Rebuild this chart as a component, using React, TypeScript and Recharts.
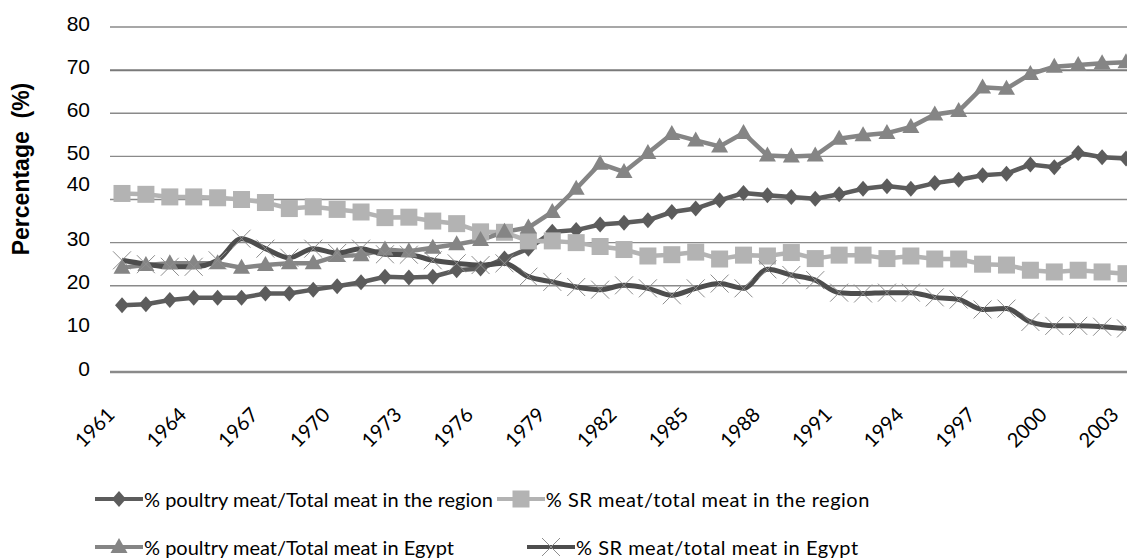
import { Line, LineChart, ReferenceLine, XAxis, YAxis } from 'recharts'

const years = [
  '1961', '1962', '1963', '1964', '1965', '1966', '1967', '1968', '1969', '1970',
  '1971', '1972', '1973', '1974', '1975', '1976', '1977', '1978', '1979', '1980',
  '1981', '1982', '1983', '1984', '1985', '1986', '1987', '1988', '1989', '1990',
  '1991', '1992', '1993', '1994', '1995', '1996', '1997', '1998', '1999', '2000',
  '2001', '2002', '2003',
]

// % poultry meat / total meat in the region
const poultryRegion = [
  15.5, 15.7, 16.7, 17.2, 17.2, 17.2, 18.2, 18.2, 19.1, 19.9,
  20.8, 22.1, 21.9, 22.1, 23.6, 24.0, 26.3, 28.6, 32.5, 32.9,
  34.2, 34.6, 35.2, 37.1, 37.9, 39.8, 41.5, 41.0, 40.6, 40.2,
  41.2, 42.5, 43.1, 42.5, 43.8, 44.6, 45.6, 46.0, 48.1, 47.5,
  50.8, 49.8, 49.5,
]

// % SR meat / total meat in the region
const srRegion = [
  41.4, 41.2, 40.6, 40.6, 40.4, 40.0, 39.3, 37.9, 38.3, 37.7,
  37.1, 35.8, 35.9, 35.0, 34.4, 32.5, 32.4, 30.4, 30.4, 30.0,
  29.1, 28.4, 26.9, 27.2, 27.8, 26.2, 27.1, 26.9, 27.7, 26.3,
  27.1, 27.1, 26.3, 26.9, 26.2, 26.2, 25.0, 24.8, 23.6, 23.2,
  23.6, 23.2, 22.8,
]

// % poultry meat / total meat in Egypt
const poultryEgypt = [
  24.2, 24.8, 25.2, 25.2, 25.2, 24.2, 24.8, 25.2, 25.2, 26.9,
  27.1, 28.4, 28.0, 28.8, 29.6, 30.6, 32.5, 33.5, 37.1, 42.5,
  48.3, 46.4, 50.8, 55.2, 53.7, 52.3, 55.4, 50.2, 50.0, 50.2,
  54.1, 54.9, 55.4, 56.8, 59.7, 60.5, 66.0, 65.7, 69.1, 70.8,
  71.2, 71.6, 71.8,
]

// % SR meat / total meat in Egypt
const srEgypt = [
  25.9, 25.0, 24.4, 24.4, 25.9, 30.9, 28.6, 26.5, 28.6, 27.6,
  28.6, 27.3, 27.2, 25.9, 25.2, 24.8, 25.2, 22.1, 20.9, 19.7,
  19.1, 20.1, 19.4, 17.8, 19.4, 20.5, 19.4, 23.8, 22.5, 21.3,
  18.4, 18.2, 18.4, 18.4, 17.3, 16.8, 14.5, 14.7, 11.6, 10.7,
  10.7, 10.5, 10.1,
]

const yearTicks = ['1961', '1964', '1967', '1970', '1973', '1976', '1979', '1982', '1985', '1988', '1991', '1994', '1997', '2000', '2003']
const valueTicks = [0, 10, 20, 30, 40, 50, 60, 70, 80]
const gridValues = [20, 30, 40, 50, 60, 70, 80]

const legendRows = [
  [
    { key: 'poultryRegion', label: '% poultry meat/Total meat in the region' },
    { key: 'srRegion', label: '% SR meat/total meat in the region' },
  ],
  [
    { key: 'poultryEgypt', label: '% poultry meat/Total meat in Egypt' },
    { key: 'srEgypt', label: '% SR meat/total meat in Egypt' },
  ],
]

const data = years.map((year, i) => ({
  year,
  poultryRegion: poultryRegion[i],
  srRegion: srRegion[i],
  poultryEgypt: poultryEgypt[i],
  srEgypt: srEgypt[i],
}))

const COLORS: Record<string, string> = {
  poultryRegion: '#5c5c5c',
  srRegion: '#b3b3b3',
  poultryEgypt: '#858585',
  srEgypt: '#4d4d4d',
}
const CROSS_COLOR = '#8e8e8e'
const GRID_COLOR = '#8a8a8a'
const LABEL_FONT = 'Lato, "Open Sans", sans-serif'

function Marker({ kind, cx, cy }: { kind: string; cx: number; cy: number }) {
  const fill = COLORS[kind]
  if (kind === 'poultryRegion') {
    return <path d={`M${cx},${cy - 8}L${cx + 7},${cy}L${cx},${cy + 8}L${cx - 7},${cy}Z`} fill={fill} />
  }
  if (kind === 'srRegion') {
    return <rect x={cx - 8.5} y={cy - 8.5} width={17} height={17} fill={fill} />
  }
  if (kind === 'poultryEgypt') {
    return <path d={`M${cx},${cy - 9}L${cx + 8.5},${cy + 6}L${cx - 8.5},${cy + 6}Z`} fill={fill} />
  }
  return (
    <path
      d={`M${cx - 9},${cy - 9}L${cx + 9},${cy + 9}M${cx + 9},${cy - 9}L${cx - 9},${cy + 9}`}
      stroke={CROSS_COLOR}
      strokeWidth={1}
      fill="none"
    />
  )
}

const makeDot = (kind: string) => (props: any) => {
  const { cx, cy, index } = props
  if (cx == null || cy == null) return <g key={`${kind}-${index}`} />
  return (
    <g key={`${kind}-${index}`}>
      <Marker kind={kind} cx={cx} cy={cy} />
    </g>
  )
}

// labels in the original sit a little above their gridlines
const yLabelShift: Record<number, number> = { 40: -12 }

function YTick(props: any) {
  const { x, y, payload } = props
  const shift = yLabelShift[payload.value] ?? 0
  return (
    <text
      x={x}
      y={y - 4 + shift}
      dy="0.36em"
      textAnchor="end"
      fontFamily='"Liberation Sans", Arial, sans-serif'
      fontSize={21}
      fill="#000"
    >
      {payload.value}
    </text>
  )
}

function XTick(props: any) {
  const { x, y, payload } = props
  const ax = x - 6
  const ay = y + 44
  return (
    <text
      x={ax}
      y={ay}
      textAnchor="end"
      transform={`rotate(-45 ${ax} ${ay})`}
      fontFamily={LABEL_FONT}
      fontSize={20}
      fill="#000"
    >
      {payload.value}
    </text>
  )
}

function YTitle(props: any) {
  const vb = props.viewBox ?? { x: 0 }
  const tx = vb.x + 29
  const ty = 169
  return (
    <text
      x={tx}
      y={ty}
      textAnchor="middle"
      transform={`rotate(-90 ${tx} ${ty})`}
      fontFamily='"Liberation Sans", Arial, sans-serif'
      fontWeight="bold"
      fontSize={23}
      fill="#000"
      style={{ whiteSpace: 'pre' }}
    >
      Percentage  (%)
    </text>
  )
}

function LegendIcon({ kind }: { kind: string }) {
  return (
    <svg width={48} height={20} style={{ display: 'block', flex: 'none' }}>
      <line x1={0} y1={10} x2={48} y2={10} stroke={COLORS[kind]} strokeWidth={4} />
      <Marker kind={kind} cx={24} cy={10} />
    </svg>
  )
}

function ChartLegend() {
  return (
    <div
      style={{
        position: 'absolute',
        left: 95,
        top: 487,
        width: 1000,
        fontFamily: LABEL_FONT,
        fontSize: 20,
        color: '#000',
      }}
    >
      {legendRows.map((row, r) => (
        <div key={r} style={{ position: 'relative', display: 'flex', alignItems: 'center', height: 24, marginBottom: r === 0 ? 24 : 0 }}>
          {row.map((item, i) => (
            <div
              key={item.key}
              style={{
                display: 'flex',
                alignItems: 'center',
                whiteSpace: 'nowrap',
                ...(r === 1 && i === 1 ? { position: 'absolute', left: 432 } : { marginLeft: i === 1 ? 4 : 0 }),
              }}
            >
              <LegendIcon kind={item.key} />
              <span style={{ marginLeft: 1, letterSpacing: i === 1 ? 0.5 : 0 }}>{item.label}</span>
            </div>
          ))}
        </div>
      ))}
    </div>
  )
}

export default function App() {
  return (
    <div style={{ position: 'absolute', left: 0, top: 0, width: 1127, height: 560, overflow: 'hidden', background: '#fff' }}>
      <LineChart
        width={1140}
        height={560}
        data={data}
        margin={{ top: 27, right: 0, bottom: 0, left: 0 }}
      >
        {gridValues.map((v) => (
          <ReferenceLine
            key={v}
            y={v}
            stroke={v === 70 ? '#7a7a7a' : GRID_COLOR}
            strokeWidth={v === 70 ? 2 : 1.4}
            ifOverflow="visible"
          />
        ))}
        <XAxis
          dataKey="year"
          ticks={yearTicks}
          interval={0}
          height={188}
          padding={{ left: 12, right: 14 }}
          axisLine={{ stroke: '#8a8a8a', strokeWidth: 2.5 }}
          tickLine={false}
          tickSize={0}
          tickMargin={0}
          tick={<XTick />}
        />
        <YAxis
          type="number"
          domain={[0, 80]}
          ticks={valueTicks}
          interval={0}
          width={110}
          axisLine={false}
          tickLine={false}
          tickSize={0}
          tickMargin={20}
          tick={<YTick />}
          label={<YTitle />}
        />
        <Line
          type="linear"
          dataKey="poultryRegion"
          stroke={COLORS.poultryRegion}
          strokeWidth={4.5}
          dot={makeDot('poultryRegion')}
          activeDot={false}
          isAnimationActive={false}
        />
        <Line
          type="linear"
          dataKey="srRegion"
          stroke={COLORS.srRegion}
          strokeWidth={4.5}
          dot={makeDot('srRegion')}
          activeDot={false}
          isAnimationActive={false}
        />
        <Line
          type="linear"
          dataKey="poultryEgypt"
          stroke={COLORS.poultryEgypt}
          strokeWidth={4.5}
          dot={makeDot('poultryEgypt')}
          activeDot={false}
          isAnimationActive={false}
        />
        <Line
          type="monotone"
          dataKey="srEgypt"
          stroke={COLORS.srEgypt}
          strokeWidth={5}
          dot={makeDot('srEgypt')}
          activeDot={false}
          isAnimationActive={false}
        />
      </LineChart>
      <ChartLegend />
    </div>
  )
}
